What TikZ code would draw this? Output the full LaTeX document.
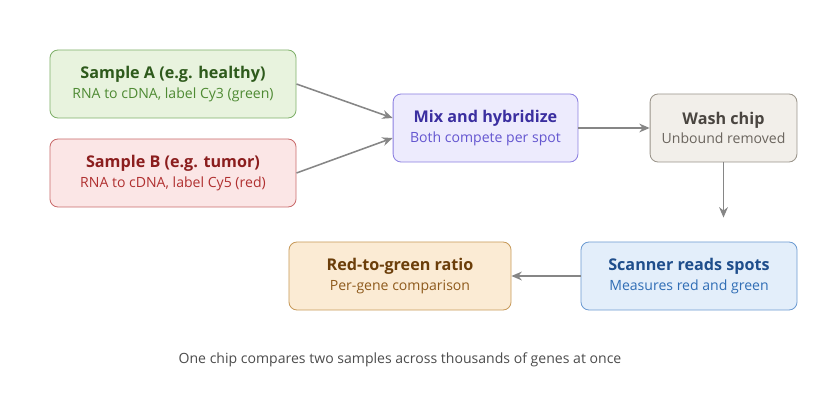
\documentclass[tikz,border=0pt]{standalone}
\usepackage{fontspec}
\setmainfont{Open Sans}
\usetikzlibrary{arrows.meta,positioning}
\definecolor{agreen}{HTML}{E8F3DE}\definecolor{agreenb}{HTML}{7FB06A}\definecolor{agreent}{HTML}{2E5A1C}\definecolor{agreens}{HTML}{4E8A33}
\definecolor{bred}{HTML}{FBE6E6}\definecolor{bredb}{HTML}{C96B6B}\definecolor{bredt}{HTML}{8B1E1E}\definecolor{breds}{HTML}{B03030}
\definecolor{mixf}{HTML}{EDEBFD}\definecolor{mixb}{HTML}{8B7FE0}\definecolor{mixt}{HTML}{3B2FA0}\definecolor{mixs}{HTML}{6456D0}
\definecolor{washf}{HTML}{F2EFEA}\definecolor{washb}{HTML}{9A948A}\definecolor{washt}{HTML}{4A4540}\definecolor{washs}{HTML}{6B655E}
\definecolor{scanf}{HTML}{E3EEFA}\definecolor{scanb}{HTML}{6C9BD2}\definecolor{scant}{HTML}{1F4E8C}\definecolor{scans}{HTML}{2F6DB5}
\definecolor{ratf}{HTML}{FBEBD4}\definecolor{ratb}{HTML}{C79A5A}\definecolor{ratt}{HTML}{6B3E0A}\definecolor{rats}{HTML}{8E5A1C}
\tikzset{stage/.style={draw,rounded corners=0.2cm,line width=0.6pt,minimum height=1.7cm,align=center,inner sep=2pt}}
\tikzset{arrow/.style={draw,color=gray!95,line width=1.1pt,-{Stealth[length=2.6mm,width=2.2mm]}}}
\begin{document}
\begin{tikzpicture}[x=0.025cm,y=-0.025cm]
    \useasboundingbox (0,0) rectangle (840,420);
    \node[stage,fill=agreen,draw=agreenb,minimum width=6.15cm] (sa) at (173,84)
        {{\fontsize{11.5}{15}\selectfont\bfseries\color{agreent}Sample A (e.g. healthy)}\\[2pt]{\fontsize{10}{12}\selectfont\color{agreens}RNA to cDNA, label Cy3 (green)}};
    \node[stage,fill=bred,draw=bredb,minimum width=6.15cm] (sb) at (173,173)
        {{\fontsize{11.5}{15}\selectfont\bfseries\color{bredt}Sample B (e.g. tumor)}\\[2pt]{\fontsize{10}{12}\selectfont\color{breds}RNA to cDNA, label Cy5 (red)}};
    \node[stage,fill=mixf,draw=mixb,minimum width=4.62cm] (mix) at (485.5,128)
        {{\fontsize{11.5}{15}\selectfont\bfseries\color{mixt}Mix and hybridize}\\[2pt]{\fontsize{10}{12}\selectfont\color{mixs}Both compete per spot}};
    \node[stage,fill=washf,draw=washb,minimum width=3.67cm] (wash) at (723.5,128)
        {{\fontsize{11.5}{15}\selectfont\bfseries\color{washt}Wash chip}\\[2pt]{\fontsize{10}{12}\selectfont\color{washs}Unbound removed}};
    \node[stage,fill=scanf,draw=scanb,minimum width=5.4cm] (scan) at (689,276)
        {{\fontsize{11.5}{15}\selectfont\bfseries\color{scant}Scanner reads spots}\\[2pt]{\fontsize{10}{12}\selectfont\color{scans}Measures red and green}};
    \node[stage,fill=ratf,draw=ratb,minimum width=5.55cm] (ratio) at (400,276)
        {{\fontsize{11.5}{15}\selectfont\bfseries\color{ratt}Red-to-green ratio}\\[2pt]{\fontsize{10}{12}\selectfont\color{rats}Per-gene comparison}};
    \node[text=black!70] (note) at (400,360) {\fontsize{10}{12}\selectfont One chip compares two samples across thousands of genes at once};

    \path[arrow] (sa.east) -- ([yshift=0.25cm]mix.west);
    \path[arrow] (sb.east) -- ([yshift=-0.25cm]mix.west);
    \path[arrow] (mix) -- (wash);
    \path[arrow,shorten >=0.6cm] (wash) -- (wash |- scan.north);
    \path[arrow] (scan) -- (ratio);
\end{tikzpicture}
\end{document}
